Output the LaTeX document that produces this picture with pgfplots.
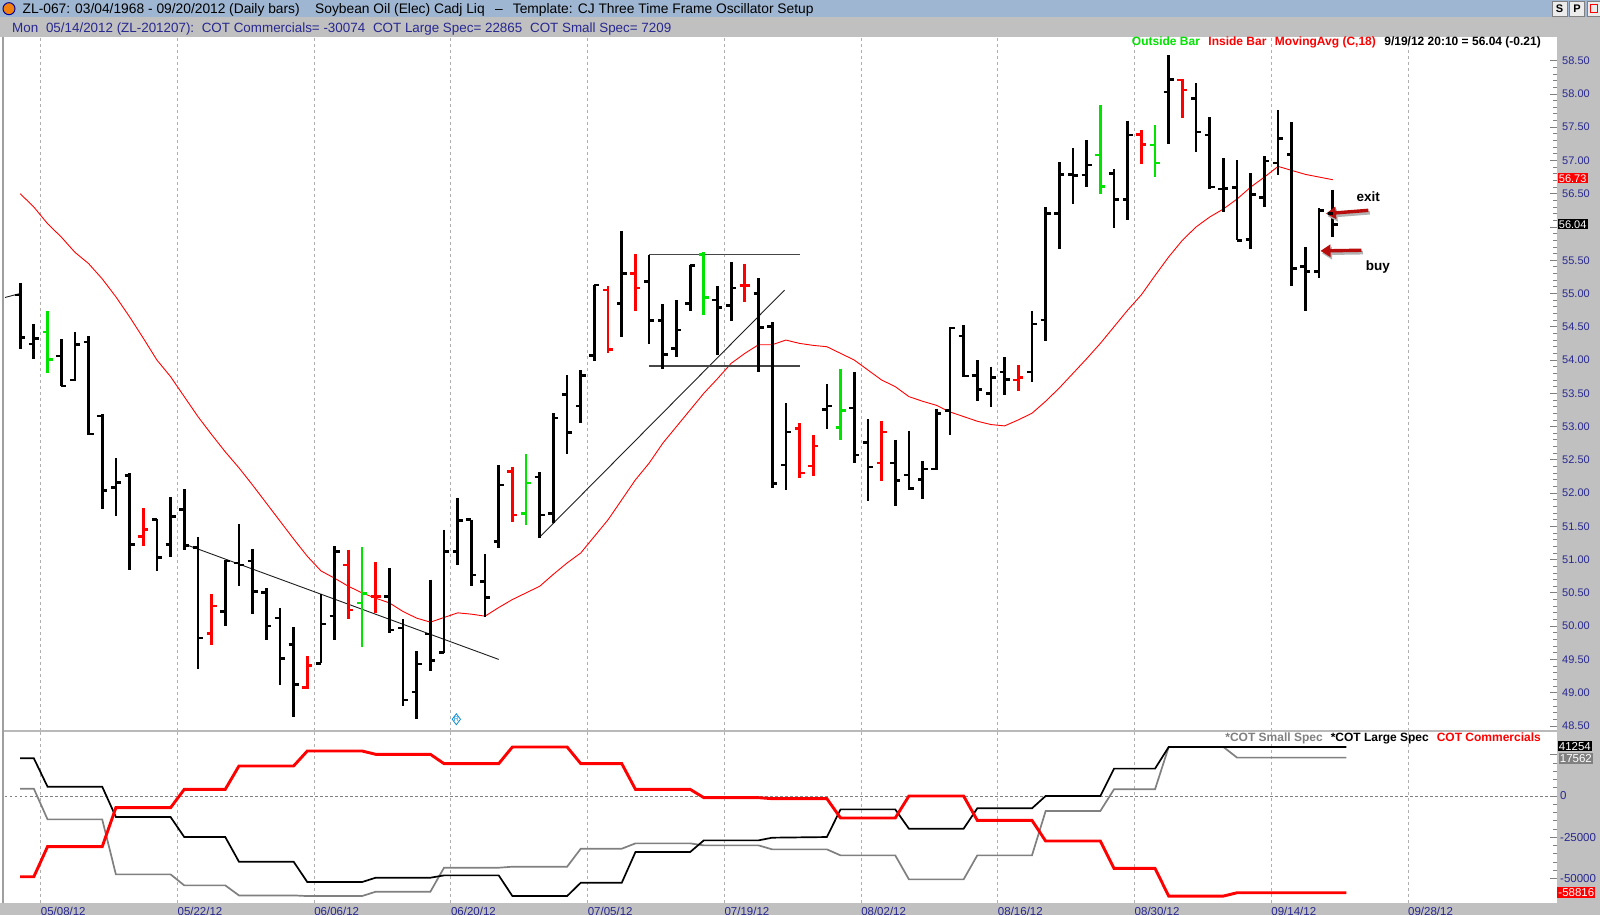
\documentclass[border=0pt]{standalone}
\usepackage{pgfplots}
\pgfplotsset{compat=1.18}
\usepackage{pgfplotstable}
\usepackage{fontspec}
\setmainfont{Liberation Sans}
\usetikzlibrary{arrows.meta}

\definecolor{hdrblue}{RGB}{158,182,210}
\definecolor{panelgray}{RGB}{192,192,192}
\definecolor{navy}{RGB}{40,40,145}
\definecolor{barred}{RGB}{255,0,0}
\definecolor{bargreen}{RGB}{0,228,0}
\definecolor{gridgray}{RGB}{175,175,175}
\definecolor{cotgray}{RGB}{128,128,128}
\definecolor{arrowred}{RGB}{185,12,12}
\definecolor{tline}{RGB}{30,30,30}
\definecolor{boxline}{RGB}{70,70,70}

\newcommand{\fs}[1]{\fontsize{#1}{#1}\selectfont}

\pgfdeclareplotmark{otick}{\pgfpathmoveto{\pgfqpoint{-5pt}{0pt}}\pgfpathlineto{\pgfqpoint{0pt}{0pt}}\pgfusepathqstroke}
\pgfdeclareplotmark{ctick}{\pgfpathmoveto{\pgfqpoint{0pt}{0pt}}\pgfpathlineto{\pgfqpoint{5pt}{0pt}}\pgfusepathqstroke}

\pgfplotstableread{
x o h l c
0 54.98 55.16 54.17 54.34
1 54.24 54.54 54.02 54.32
3 54.06 54.31 53.61 53.61
4 53.70 54.42 53.68 54.23
5 54.27 54.36 52.88 52.89
6 53.16 53.19 51.76 52.04
7 52.08 52.52 51.65 52.16
8 52.26 52.30 50.84 51.23
10 51.60 51.61 50.83 51.03
11 51.23 51.94 51.04 51.65
12 51.75 52.06 51.14 51.21
13 51.18 51.34 49.35 49.82
15 50.22 51.00 50.00 50.98
16 50.95 51.53 50.61 50.92
17 50.98 51.16 50.19 50.52
18 50.51 50.57 49.79 50.00
19 50.12 50.27 49.12 49.51
20 49.72 49.98 48.63 49.12
22 49.44 50.49 49.44 50.03
23 50.15 51.20 49.79 51.12
27 50.45 50.87 49.89 49.94
28 49.97 50.10 48.80 48.89
29 49.01 49.63 48.60 49.43
30 49.88 50.70 49.33 49.48
31 49.60 51.45 49.59 51.12
32 51.12 51.93 50.92 51.59
33 51.60 51.60 50.60 50.77
34 50.67 51.08 50.14 50.43
35 51.27 52.42 51.18 52.12
38 52.24 52.31 51.33 51.67
39 51.69 53.20 51.55 53.13
40 53.48 53.77 52.59 52.91
41 53.31 53.85 53.05 53.77
42 54.07 55.13 53.99 55.13
44 54.85 55.94 54.35 55.30
46 55.18 55.58 54.24 54.59
47 54.59 54.84 53.87 54.08
48 54.17 54.90 54.05 54.45
49 54.85 55.43 54.73 55.42
51 54.90 55.12 54.08 54.79
52 54.82 55.48 54.59 55.08
54 55.00 55.23 53.82 54.49
55 54.50 54.57 52.08 52.14
56 52.42 53.35 52.05 52.92
59 53.26 53.64 52.97 53.31
61 53.28 53.82 52.45 52.57
62 52.76 53.11 51.88 52.39
64 52.45 52.80 51.80 52.19
65 52.27 52.94 52.05 52.07
66 52.20 52.48 51.91 52.36
67 52.36 53.27 52.35 53.20
68 53.24 54.49 52.88 54.48
69 54.36 54.52 53.74 53.76
70 53.77 54.00 53.39 53.56
71 53.50 53.90 53.30 53.74
72 53.82 54.04 53.48 53.71
74 53.82 54.74 53.67 54.54
75 54.60 56.30 54.29 56.20
76 56.20 56.98 55.67 56.79
77 56.79 57.19 56.35 56.77
78 56.78 57.31 56.60 56.93
80 56.80 56.87 55.98 56.41
81 56.41 57.60 56.10 57.38
84 58.03 58.58 57.24 58.22
86 57.93 58.16 57.13 57.43
87 57.38 57.65 56.57 56.60
88 56.57 57.03 56.22 56.58
89 56.59 57.00 55.80 55.80
90 55.81 56.81 55.67 56.49
91 56.44 57.06 56.30 56.99
92 56.96 57.76 56.78 57.33
93 57.09 57.58 55.11 55.38
94 55.41 55.70 54.73 55.33
95 55.33 56.28 55.23 56.25
96 56.20 56.56 55.85 56.04
}\blackbars

\pgfplotstableread{
x o h l c
9 51.35 51.77 51.20 51.45
14 49.89 50.49 49.72 50.30
21 49.08 49.55 49.05 49.41
24 50.92 51.15 50.11 50.24
26 50.45 50.96 50.20 50.45
36 52.32 52.39 51.57 51.67
43 55.05 55.11 54.11 54.16
45 55.30 55.59 54.74 55.08
53 55.12 55.45 54.87 55.12
57 52.97 53.05 52.22 52.30
58 52.41 52.88 52.26 52.71
63 52.45 53.09 52.18 52.92
73 53.70 53.92 53.53 53.74
82 57.39 57.45 56.94 57.24
85 58.21 58.22 57.64 58.06
}\redbars

\pgfplotstableread{
x o h l c
2 54.42 54.73 53.80 54.01
25 50.35 51.19 49.69 50.49
37 51.69 52.59 51.52 52.15
50 55.59 55.62 54.68 54.94
60 52.99 53.87 52.80 53.24
79 57.08 57.84 56.49 56.61
83 57.23 57.53 56.75 56.96
}\greenbars

\pgfplotstableread{
x ma
0 56.50
1 56.30
2 56.05
3 55.85
4 55.62
5 55.45
6 55.22
7 54.95
8 54.65
9 54.33
10 54.00
11 53.75
12 53.45
13 53.15
14 52.88
15 52.62
16 52.38
17 52.12
18 51.85
19 51.58
20 51.31
21 51.05
22 50.83
23 50.72
24 50.60
25 50.50
26 50.42
27 50.35
28 50.22
29 50.12
30 50.06
31 50.13
32 50.20
33 50.18
34 50.15
35 50.28
36 50.40
37 50.50
38 50.60
39 50.78
40 50.95
41 51.10
42 51.35
43 51.60
44 51.90
45 52.20
46 52.45
47 52.75
48 53.00
49 53.25
50 53.50
51 53.72
52 53.95
53 54.10
54 54.23
55 54.23
56 54.30
57 54.25
58 54.22
59 54.20
60 54.10
61 54.00
62 53.85
63 53.70
64 53.60
65 53.45
66 53.38
67 53.32
68 53.22
69 53.15
70 53.08
71 53.03
72 53.01
73 53.10
74 53.20
75 53.38
76 53.58
77 53.80
78 54.02
79 54.25
80 54.50
81 54.75
82 54.98
83 55.27
84 55.55
85 55.80
86 56.00
87 56.15
88 56.27
89 56.42
90 56.60
91 56.75
92 56.91
93 56.85
94 56.79
95 56.75
96 56.71
}\matable

\pgfplotstableread{
x v
0 22870
1 22870
2 5667
6 5667
7 -12750
11 -12750
12 -24900
15 -24900
16 -39870
20 -39870
21 -52220
25 -52220
26 -49590
30 -49590
31 -48170
35 -48170
36 -60720
40 -60720
41 -52620
44 -52620
45 -34000
49 -34000
50 -26920
54 -26920
55 -25300
59 -24900
60 -8100
64 -8100
65 -19840
69 -19840
70 -7490
74 -7490
75 0
79 0
80 16600
83 16600
84 29750
97 29750
}\cotlarge

\pgfplotstableread{
x v
0 4450
1 4450
2 -14170
6 -14170
7 -47560
11 -47560
12 -54240
15 -54240
16 -60320
20 -60320
21 -60720
25 -60720
26 -58090
30 -58090
31 -43520
35 -43520
36 -42910
40 -42910
41 -31980
44 -31980
45 -28740
49 -28740
50 -29960
54 -29960
55 -32380
59 -32380
60 -36030
64 -36030
65 -50600
69 -50600
70 -36030
74 -36030
75 -9110
79 -9110
80 4050
83 4050
84 29750
88 29750
89 23280
97 23280
}\cotsmall

\pgfplotstableread{
x v
0 -48980
1 -48980
2 -30760
6 -30760
7 -7080
11 -7080
12 4050
15 4050
16 18220
20 18220
21 27320
25 27320
26 25300
30 25300
31 19630
35 19630
36 29750
40 29750
41 19630
44 19630
45 4050
49 4050
50 -1010
54 -1010
55 -1620
59 -1620
60 -13360
64 -13360
65 0
69 0
70 -14780
74 -14780
75 -27320
79 -27320
80 -43920
83 -43920
84 -60720
88 -60720
89 -58700
97 -58700
}\cotcomm

\begin{document}
\begin{tikzpicture}[x=1pt,y=1pt]
\path[use as bounding box] (0,0) rectangle (1600,915);
% backgrounds
\fill[white] (0,0) rectangle (1600,915);
\fill[hdrblue] (0,897.7) rectangle (1600,915);
\fill[panelgray] (0,878.3) rectangle (1600,897.7);
\fill[panelgray] (1557,0) rectangle (1600,878.3);
\fill[panelgray] (0,0) rectangle (1600,12);

% ---------------- price panel ----------------
\begin{axis}[
  at={(5pt,184.4pt)}, anchor=south west, scale only axis,
  width=1552pt, height=693.9pt,
  xmin=-1.11, xmax=112.4, ymin=48.43, ymax=58.86,
  axis line style={draw=none},
  axis background/.style={fill=white},
  clip=false,
  xtick={1.5,11.5,21.5,31.5,41.5,51.5,61.5,71.5,81.5,91.5,101.5},
  xticklabels={}, xtick style={draw=none},
  xmajorgrids, major x grid style={gridgray, line width=0.8pt, dash pattern=on 3pt off 3pt},
  ytick={48.5,49,49.5,50,50.5,51,51.5,52,52.5,53,53.5,54,54.5,55,55.5,56,56.5,57,57.5,58,58.5},
  yticklabels={48.50,49.00,49.50,50.00,50.50,51.00,51.50,52.00,52.50,53.00,53.50,54.00,54.50,55.00,55.50,{},56.50,57.00,57.50,58.00,58.50},
  minor y tick num=4,
  ytick pos=right, yticklabel pos=right, tick align=inside,
  major tick length=7pt, minor tick length=4pt,
  ytick style={gray, line width=0.8pt},
  minor y tick style={gray, line width=0.8pt},
  yticklabel style={font=\fs{11pt}, text=navy, anchor=west, inner sep=0pt, xshift=5pt},
]
% moving average
\addplot[red, line width=0.9pt, forget plot] table[x=x, y=ma] {\matable};
% trend lines and box
\addplot[tline, line width=0.9pt, forget plot] coordinates {(-1.11,54.94) (0,55.0)};
\addplot[tline, line width=0.9pt, forget plot] coordinates {(12.06,51.23) (35.0,49.50)};
\addplot[tline, line width=0.9pt, forget plot] coordinates {(38.0,51.34) (55.9,55.05)};
\addplot[boxline, line width=1.3pt, forget plot] coordinates {(46.0,55.59) (57.0,55.59)};
\addplot[boxline, line width=1.3pt, forget plot] coordinates {(46.0,53.91) (57.0,53.91)};
% bars: black
\addplot[draw=none, mark=none, forget plot, error bars/.cd, y dir=minus, y explicit, error mark=none, error bar style={draw=black, line width=2.7pt, solid}]
  table[x=x, y=h, y error minus expr={\thisrow{h}-\thisrow{l}}] {\blackbars};
\addplot[only marks, mark=otick, mark options={draw=black, line width=2.6pt, solid}, forget plot] table[x=x, y=o] {\blackbars};
\addplot[only marks, mark=ctick, mark options={draw=black, line width=2.6pt, solid}, forget plot] table[x=x, y=c] {\blackbars};
% bars: red (inside)
\addplot[draw=none, mark=none, forget plot, error bars/.cd, y dir=minus, y explicit, error mark=none, error bar style={draw=barred, line width=2.7pt, solid}]
  table[x=x, y=h, y error minus expr={\thisrow{h}-\thisrow{l}}] {\redbars};
\addplot[only marks, mark=otick, mark options={draw=barred, line width=2.6pt, solid}, forget plot] table[x=x, y=o] {\redbars};
\addplot[only marks, mark=ctick, mark options={draw=barred, line width=2.6pt, solid}, forget plot] table[x=x, y=c] {\redbars};
% bars: green (outside)
\addplot[draw=none, mark=none, forget plot, error bars/.cd, y dir=minus, y explicit, error mark=none, error bar style={draw=bargreen, line width=2.7pt, solid}]
  table[x=x, y=h, y error minus expr={\thisrow{h}-\thisrow{l}}] {\greenbars};
\addplot[only marks, mark=otick, mark options={draw=bargreen, line width=2.6pt, solid}, forget plot] table[x=x, y=o] {\greenbars};
\addplot[only marks, mark=ctick, mark options={draw=bargreen, line width=2.6pt, solid}, forget plot] table[x=x, y=c] {\greenbars};
% R marker
\addplot[only marks, mark=diamond, mark size=5.5pt, mark options={cyan!75!blue, line width=0.8pt}, forget plot] coordinates {(31.9,48.60)};
\node[text=cyan!75!blue, font=\fs{7pt}] at (axis cs:31.9,48.60) {R};
% arrows
\draw[transform canvas={xshift=1.5pt,yshift=-2.5pt}, black!30, line width=3.4pt, -{Triangle[length=10pt,width=12pt]}] (axis cs:98.6,56.25) -- (axis cs:95.5,56.20);
\draw[arrowred, line width=3.4pt, -{Triangle[length=10pt,width=12pt]}] (axis cs:98.6,56.25) -- (axis cs:95.5,56.20);
\draw[transform canvas={xshift=1.5pt,yshift=-2.5pt}, black!30, line width=3.4pt, -{Triangle[length=10pt,width=12pt]}] (axis cs:98.1,55.65) -- (axis cs:95.1,55.64);
\draw[arrowred, line width=3.4pt, -{Triangle[length=10pt,width=12pt]}] (axis cs:98.1,55.65) -- (axis cs:95.1,55.64);
\node[font=\bfseries\fs{13.5pt}] at (axis cs:98.6,56.45) {exit};
\node[font=\bfseries\fs{13.5pt}] at (axis cs:99.3,55.40) {buy};
% value boxes
\node[fill=red, text=white, anchor=west, inner sep=1.2pt, font=\fs{11pt}] at (axis cs:112.4,56.73) [xshift=0.5pt] {56.73};
\node[fill=black, text=white, anchor=west, inner sep=1.2pt, font=\fs{11pt}] at (axis cs:112.4,56.04) [xshift=0.5pt] {56.04};
\end{axis}

% ---------------- COT panel ----------------
\begin{axis}[
  at={(5pt,12pt)}, anchor=south west, scale only axis,
  width=1552pt, height=171pt,
  xmin=-1.11, xmax=112.4, ymin=-64927, ymax=38835,
  axis line style={draw=none},
  axis background/.style={fill=white},
  clip=false,
  xtick={1.5,11.5,21.5,31.5,41.5,51.5,61.5,71.5,81.5,91.5,101.5},
  xticklabels={05/08/12,05/22/12,06/06/12,06/20/12,07/05/12,07/19/12,08/02/12,08/16/12,08/30/12,09/14/12,09/28/12},
  xtick style={draw=none},
  xticklabel style={anchor=north west, inner sep=0pt, yshift=-4pt, text=navy, font=\fs{11.5pt}},
  xmajorgrids, major x grid style={gridgray, line width=0.8pt, dash pattern=on 3pt off 3pt},
  scaled y ticks=false,
  ytick={-50000,-25000,0,25000},
  yticklabels={-50000,-25000,0,{}},
  minor y tick num=4,
  ytick pos=right, yticklabel pos=right, tick align=inside,
  major tick length=7pt, minor tick length=4pt,
  ytick style={gray, line width=0.8pt},
  minor y tick style={gray, line width=0.8pt},
  yticklabel style={font=\fs{11.5pt}, text=navy, anchor=west, inner sep=0pt, xshift=3pt},
]
\addplot[gray, line width=0.9pt, dash pattern=on 2.5pt off 2.5pt, forget plot] coordinates {(-1.11,0) (112.4,0)};
\addplot[cotgray, line width=1.7pt, forget plot] table[x=x, y=v] {\cotsmall};
\addplot[black, line width=1.7pt, forget plot] table[x=x, y=v] {\cotlarge};
\addplot[red, line width=2.9pt, forget plot] table[x=x, y=v] {\cotcomm};
\node[fill=black, text=white, anchor=west, inner sep=1.2pt, font=\fs{11.5pt}] at (axis cs:112.4,30300) [xshift=0.5pt] {41254};
\node[fill=cotgray, text=white, anchor=west, inner sep=1.2pt, font=\fs{11.5pt}] at (axis cs:112.4,22600) [xshift=1.5pt] {17562};
\node[fill=red, text=white, anchor=west, inner sep=1.2pt, font=\fs{11.5pt}] at (axis cs:112.4,-58700) [xshift=0pt] {-58816};
\end{axis}

% panel separator and left border
\draw[gray!55, line width=2.6pt] (3,183.8) -- (1557,183.8);
\draw[gray!75, line width=2pt] (3,12) -- (3,878.3);

% legends
\node[anchor=east, inner sep=0pt, font=\bfseries\fs{12pt}] at (1541,872.5)
  {\textcolor{bargreen}{Outside Bar}\hspace{8.5pt}\textcolor{red}{Inside Bar}\hspace{8.5pt}\textcolor{red}{MovingAvg (C,18)}\hspace{8.5pt}9/19/12 20:10 = 56.04 (-0.21)};
\node[anchor=east, inner sep=0pt, font=\bfseries\fs{12pt}] at (1541,177)
  {\textcolor{cotgray}{*COT Small Spec}\hspace{8pt}*COT Large Spec\hspace{8pt}\textcolor{red}{COT Commercials}};

% header row 1
\fill[orange!80!brown] (9,906.3) circle (6);
\draw[blue!60!black, line width=1pt] (9,906.3) circle (6);
\node[anchor=base west, inner sep=0pt, font=\fs{13.8pt}] at (22.5,901.5) {ZL-067:};
\node[anchor=base west, inner sep=0pt, font=\fs{13.8pt}] at (75,901.5) {03/04/1968 - 09/20/2012};
\node[anchor=base west, inner sep=0pt, font=\fs{13.8pt}] at (229,901.5) {(Daily bars)};
\node[anchor=base west, inner sep=0pt, font=\fs{13.8pt}] at (315,901.5) {Soybean Oil (Elec) Cadj Liq};
\node[anchor=base west, inner sep=0pt, font=\fs{13.8pt}] at (495,901.5) {–};
\node[anchor=base west, inner sep=0pt, font=\fs{13.8pt}] at (512.7,901.5) {Template: CJ Three Time Frame Oscillator Setup};
% header row 2
\node[anchor=base west, inner sep=0pt, font=\fs{13.4pt}, text=navy] at (12,882.5) {Mon};
\node[anchor=base west, inner sep=0pt, font=\fs{13.4pt}, text=navy] at (45.8,882.5) {05/14/2012 (ZL-201207):};
\node[anchor=base west, inner sep=0pt, font=\fs{13.4pt}, text=navy] at (201.6,882.5) {COT Commercials= -30074};
\node[anchor=base west, inner sep=0pt, font=\fs{13.4pt}, text=navy] at (372.8,882.5) {COT Large Spec= 22865};
\node[anchor=base west, inner sep=0pt, font=\fs{13.4pt}, text=navy] at (529.9,882.5) {COT Small Spec= 7209};
% header buttons
\draw[fill=gray!15, draw=gray] (1552,899) rectangle (1567,914);
\node[font=\bfseries\fs{11pt}] at (1559.5,906.5) {S};
\draw[fill=gray!15, draw=gray] (1569.5,899) rectangle (1584.5,914);
\node[font=\bfseries\fs{11pt}] at (1577,906.5) {P};
\draw[fill=gray!15, draw=gray] (1587,899) rectangle (1602,914);
\draw[red, line width=1pt] (1590,902) rectangle (1597,910);
\end{tikzpicture}
\end{document}
